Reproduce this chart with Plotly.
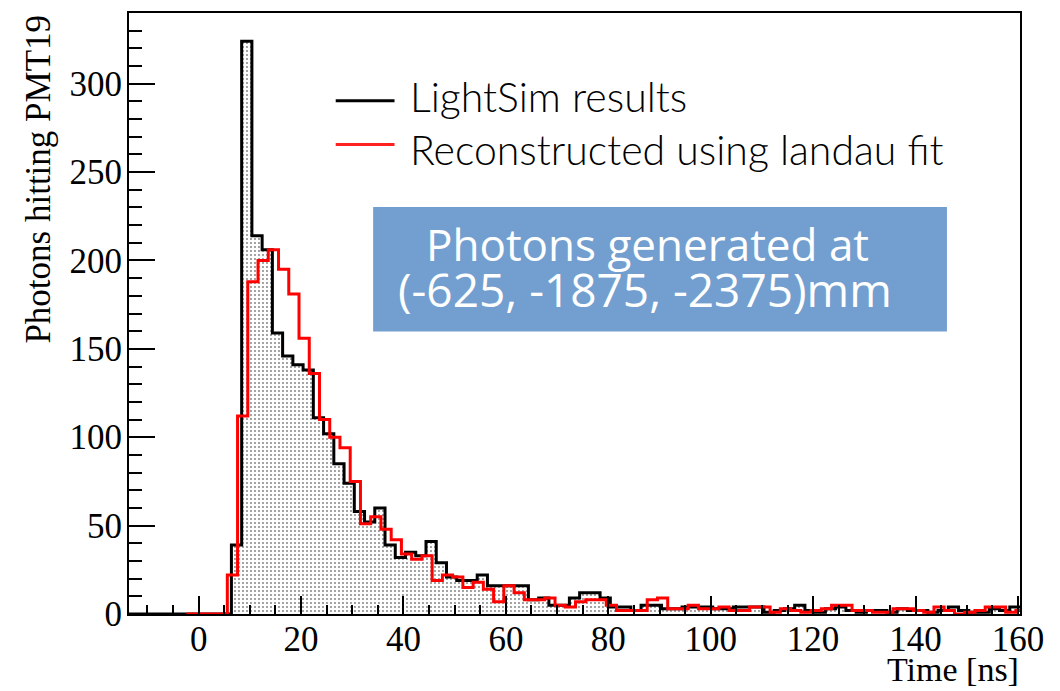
import numpy as np
import plotly.graph_objects as go

# ---- data ----
black_start = -13.6   # first bin edge of LightSim histogram [ns]
red_start = -2.4      # first bin edge of reconstructed histogram [ns]
bin_width = 2.0

lightsim_counts = [
    0, 0, 0, 0, 0, 0, 0, 0, 0, 0,
    39, 324, 214, 206, 159, 146, 141, 138, 111, 102,
    85, 74, 58, 52, 60, 39, 32, 35, 33, 41,
    29, 21, 19, 19, 22, 16, 16, 16, 16, 8,
    9, 5, 5, 9, 12, 12, 9, 4, 4, 2,
    5, 5, 3, 3, 4, 4, 4, 3, 3, 4,
    4, 4, 1,
    2, 3, 5, 2, 1, 3, 4, 2, 1, 2, 2, 1, 3, 2, 2, 1, 2, 4, 2, 1, 1, 3, 2, 4,
]

reco_counts = [
    0, 0, 0, 0,
    22, 112, 188, 200, 206, 195, 181, 156, 136, 110,
    100, 94, 75, 51, 55, 48, 42, 34, 31, 33,
    19, 22, 21, 15, 18, 14, 7, 16, 12, 8,
    8, 9, 5, 4, 7, 8, 8, 5, 2, 2,
    2, 8, 9, 3, 3, 5, 3, 3, 4, 2,
    2, 4, 4, 1, 3,
    2, 1, 2, 3, 5, 5, 2, 2, 1, 1, 3, 3, 2, 1, 4, 2, 0, 1, 2, 4, 4, 1, 2,
]

x_tick_vals = [0, 20, 40, 60, 80, 100, 120, 140, 160]
y_tick_vals = [0, 50, 100, 150, 200, 250, 300]

legend_names = ["LightSim results", "Reconstructed using landau fit"]
box_lines = ["Photons generated at", "(-625, -1875, -2375)mm"]


def step_xy(start, counts):
    edges = start + bin_width * np.arange(len(counts) + 1)
    return list(edges), list(counts) + [counts[-1]]


bx, by = step_xy(black_start, lightsim_counts)
rx, ry = step_xy(red_start, reco_counts)

fig = go.Figure()
fig.add_trace(go.Scatter(
    x=bx, y=by, mode="lines", name=legend_names[0],
    line=dict(color="black", width=3, shape="hv"),
    fill="tozeroy", fillcolor="white",
    fillpattern=dict(shape=".", fgcolor="black", bgcolor="white", size=4, solidity=0.18),
    showlegend=False,
))
fig.add_trace(go.Scatter(
    x=rx, y=ry, mode="lines", name=legend_names[1],
    line=dict(color="#ff0000", width=3, shape="hv"),
    showlegend=False,
))

serif = "Liberation Serif"
sans = "Open Sans"
legfont = "Lato"

fig.update_layout(
    width=1060, height=691,
    margin=dict(l=129, r=40, t=11, b=77),
    paper_bgcolor="white", plot_bgcolor="white",
    showlegend=False,
    xaxis=dict(
        range=[-13.6, 160.4], tickvals=x_tick_vals, ticks="inside", ticklen=18,
        tickwidth=1.5, tickcolor="black", showline=True, linewidth=2, linecolor="black",
        mirror=True, showgrid=False, zeroline=False, ticklabelstandoff=-7,
        tickfont=dict(family=serif, size=35, color="black"),
        minor=dict(dtick=5, tick0=0, ticks="inside", ticklen=9, tickwidth=1.5, tickcolor="black"),
    ),
    yaxis=dict(
        range=[0, 340], tickvals=y_tick_vals, ticks="inside", ticklen=26,
        tickwidth=1.5, tickcolor="black", showline=True, linewidth=2, linecolor="black",
        mirror=True, showgrid=False, zeroline=False, ticklabelstandoff=-2,
        tickfont=dict(family=serif, size=35, color="black"),
        minor=dict(dtick=10, tick0=0, ticks="inside", ticklen=13, tickwidth=1.5, tickcolor="black"),
    ),
)

# axis titles (ROOT style: right / top aligned)
fig.add_annotation(text="Time [ns]", xref="paper", yref="paper", x=1.0, y=-0.092,
                   xanchor="right", yanchor="middle", showarrow=False, borderpad=0,
                   font=dict(family=serif, size=34, color="black"))
fig.add_annotation(text="Photons hitting PMT19", xref="paper", yref="paper", x=-0.102, y=1.0,
                   xanchor="center", yanchor="top", textangle=-90, showarrow=False,
                   font=dict(family=serif, size=35, color="black"))

# legend (drawn manually)
leg_x0, leg_x1, leg_text_x = 0.232, 0.298, 0.313
leg_line_y = [0.854, 0.781]
leg_text_y = [0.861, 0.773]
for name, color, ly, ty in zip(legend_names, ["black", "#ff2020"], leg_line_y, leg_text_y):
    fig.add_shape(type="line", xref="paper", yref="paper", x0=leg_x0, x1=leg_x1, y0=ly, y1=ly,
                  line=dict(color=color, width=3))
    fig.add_annotation(text=name, xref="paper", yref="paper", x=leg_text_x, y=ty,
                       xanchor="left", yanchor="middle", showarrow=False,
                       font=dict(family=legfont, size=41, color="black", weight=300))

# info box
fig.add_shape(type="rect", xref="paper", yref="paper", x0=0.274, x1=0.918, y0=0.470, y1=0.677,
              fillcolor="#729fcf", line=dict(width=0), layer="above")
fig.add_annotation(text=box_lines[0], xref="paper", yref="paper", x=0.582, y=0.616,
                   xanchor="center", yanchor="middle", showarrow=False, borderpad=0,
                   font=dict(family=sans, size=44, color="white"))
fig.add_annotation(text=box_lines[1], xref="paper", yref="paper", x=0.579, y=0.541,
                   xanchor="center", yanchor="middle", showarrow=False, borderpad=0,
                   font=dict(family=sans, size=46, color="white"))

fig.write_html("out.html")
